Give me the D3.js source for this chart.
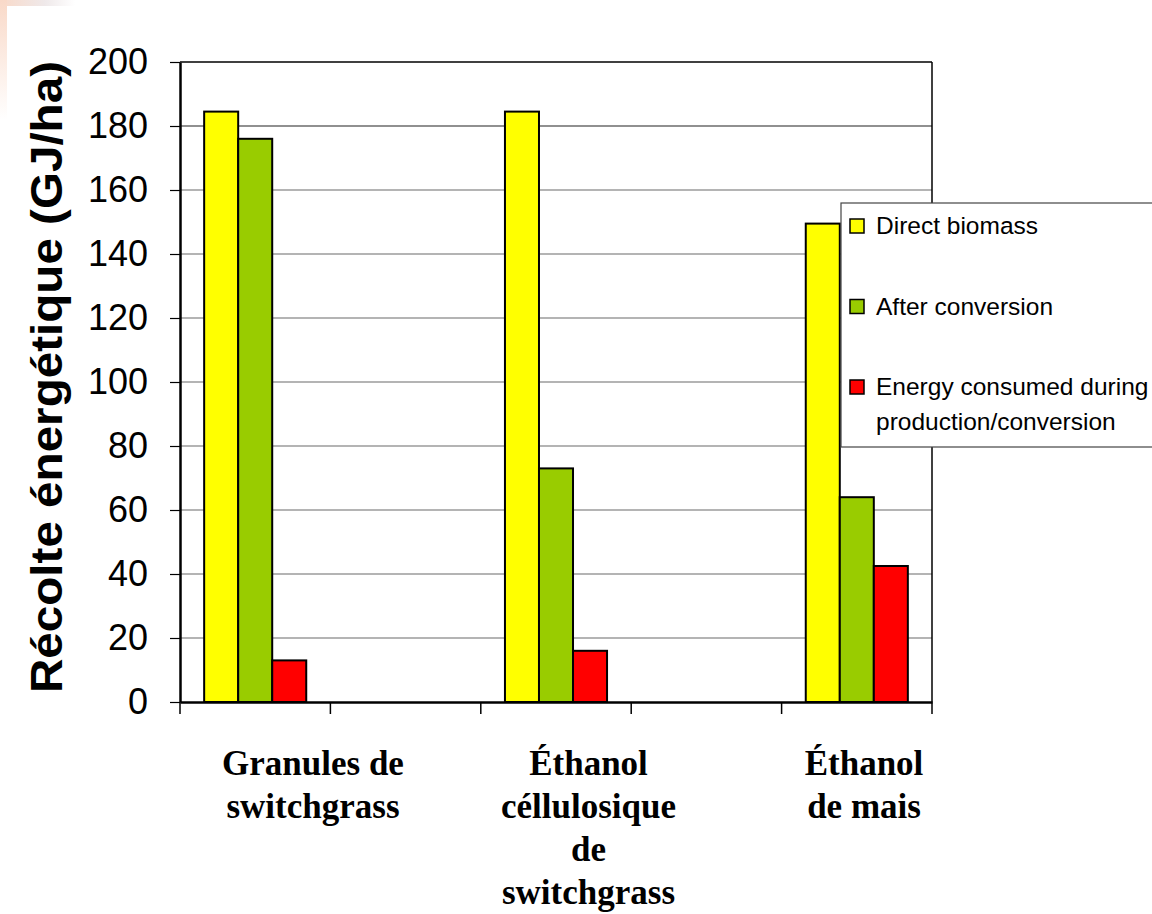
<!DOCTYPE html>
<html>
<head>
<meta charset="utf-8">
<script src="https://cdn.jsdelivr.net/npm/d3@7"></script>
<style>
  body { margin: 0; background: #fff; }
  svg { display: block; }
</style>
</head>
<body>
<svg id="chart" width="1152" height="914"></svg>
<script>
// ---- data ----
const categories = ["Granules de switchgrass", "Éthanol céllulosique de switchgrass", "Éthanol de mais"];
const categoryLines = [["Granules de", "switchgrass"], ["Éthanol", "céllulosique", "de", "switchgrass"], ["Éthanol", "de mais"]];
const seriesNames = ["Direct biomass", "After conversion", "Energy consumed during production/conversion"];
const legendLines = [["Direct biomass"], ["After conversion"], ["Energy consumed during", "production/conversion"]];
const directBiomass = [184.5, 184.5, 149.5];
const afterConversion = [176, 73, 64];
const energyConsumed = [13, 16, 42.5];
const yTicks = [0, 20, 40, 60, 80, 100, 120, 140, 160, 180, 200];
const colors = ["#ffff00", "#99cc00", "#ff0000"];
const yTitle = "Récolte énergétique (GJ/ha)";

const seriesValues = [directBiomass, afterConversion, energyConsumed];

const svg = d3.select("#chart");

// faint decorative corner gradient
const defs = svg.append("defs");
const gTop = defs.append("linearGradient").attr("id", "gTop").attr("x1", "0").attr("x2", "1");
gTop.append("stop").attr("offset", "0").attr("stop-color", "#f9d9c8");
gTop.append("stop").attr("offset", "0.6").attr("stop-color", "#efe9ea");
gTop.append("stop").attr("offset", "1").attr("stop-color", "#ffffff");
const gLeft = defs.append("linearGradient").attr("id", "gLeft").attr("x1", "0").attr("x2", "0").attr("y1", "0").attr("y2", "1");
gLeft.append("stop").attr("offset", "0").attr("stop-color", "#f9d9c8");
gLeft.append("stop").attr("offset", "1").attr("stop-color", "#ffffff");
svg.append("rect").attr("x", 0).attr("y", 0).attr("width", 75).attr("height", 6).attr("fill", "url(#gTop)");
svg.append("rect").attr("x", 0).attr("y", 0).attr("width", 7).attr("height", 120).attr("fill", "url(#gLeft)");

const plot = { left: 180, right: 932, top: 62, bottom: 702 };

// slots: categories interleaved with empty gaps
const slots = [];
categories.forEach((c, i) => { slots.push(c); if (i < categories.length - 1) slots.push("gap" + i); });

const x = d3.scaleBand().domain(slots).range([plot.left, plot.right]).padding(0);
const xInner = d3.scaleBand().domain(seriesNames).range([0, x.bandwidth()]).paddingInner(0).paddingOuter(0.71);
const y = d3.scaleLinear().domain([0, 200]).range([plot.bottom, plot.top]);

// gridlines
svg.append("g").selectAll("line").data(yTicks.filter(t => t > 0 && t < 200)).join("line")
  .attr("x1", plot.left).attr("x2", plot.right)
  .attr("y1", d => y(d)).attr("y2", d => y(d))
  .attr("stroke", d => d === 180 ? "#222" : "#6b6b6b").attr("stroke-width", 1.2);

// frame top and right
svg.append("line").attr("x1", plot.left).attr("x2", plot.right).attr("y1", plot.top).attr("y2", plot.top)
  .attr("stroke", "#000").attr("stroke-width", 1.5);
svg.append("line").attr("x1", plot.right).attr("x2", plot.right).attr("y1", plot.top).attr("y2", plot.bottom)
  .attr("stroke", "#000").attr("stroke-width", 1.5);

// bars
const groups = svg.append("g").selectAll("g").data(categories).join("g")
  .attr("transform", d => `translate(${x(d)},0)`);
groups.selectAll("rect").data((c, i) => seriesNames.map((s, j) => ({ s, j, v: seriesValues[j][i] }))).join("rect")
  .attr("x", d => xInner(d.s))
  .attr("width", xInner.bandwidth())
  .attr("y", d => y(d.v))
  .attr("height", d => y(0) - y(d.v))
  .attr("fill", d => colors[d.j])
  .attr("stroke", "#000").attr("stroke-width", 2);

// y axis
const yAxis = d3.axisLeft(y).tickValues(yTicks).tickSize(10).tickPadding(22).tickSizeOuter(0);
const yg = svg.append("g").attr("transform", `translate(${plot.left},0)`).call(yAxis);
yg.select(".domain").attr("stroke", "#000").attr("stroke-width", 2.5);
yg.selectAll(".tick line").attr("stroke", "#000").attr("stroke-width", 1.2);
yg.selectAll(".tick text").attr("font-family", "Liberation Sans, Arial, sans-serif").attr("font-size", 36).attr("fill", "#000");

// x axis
const xAxis = d3.axisBottom(x).tickValues([]).tickSizeOuter(0);
const xg = svg.append("g").attr("transform", `translate(0,${plot.bottom})`).call(xAxis);
xg.select(".domain").attr("stroke", "#000").attr("stroke-width", 2.5);
const boundaries = slots.map(s => x(s)).concat([plot.right]);
xg.selectAll("line.bt").data(boundaries).join("line").attr("class", "bt")
  .attr("x1", d => d).attr("x2", d => d).attr("y1", 0).attr("y2", 12)
  .attr("stroke", "#000").attr("stroke-width", 1.5);

// category labels
const xLabel = d3.scalePoint().domain(categories).range([313, 864]);
const lab = svg.append("g").selectAll("text").data(categories).join("text")
  .attr("text-anchor", "middle")
  .attr("font-family", "Liberation Serif, Times New Roman, serif")
  .attr("font-weight", "bold").attr("font-size", 35).attr("fill", "#000");
lab.selectAll("tspan").data((c, i) => categoryLines[i].map(l => ({ l, c }))).join("tspan")
  .attr("x", d => xLabel(d.c))
  .attr("y", (d, k) => 775 + k * 43)
  .text(d => d.l);

// y title
svg.append("text")
  .attr("transform", `translate(62,377) rotate(-90)`)
  .attr("text-anchor", "middle")
  .attr("font-family", "Liberation Sans, Arial, sans-serif")
  .attr("font-weight", "bold").attr("font-size", 45).attr("fill", "#000")
  .attr("textLength", 632).attr("lengthAdjust", "spacingAndGlyphs")
  .text(yTitle);

// legend
const legend = svg.append("g").attr("transform", "translate(841,203)");
legend.append("rect").attr("x", 0).attr("y", 0).attr("width", 340).attr("height", 244)
  .attr("fill", "#fff").attr("stroke", "#444").attr("stroke-width", 1.2);
const ly = d3.scalePoint().domain(seriesNames).range([31, 192]);
const items = legend.selectAll("g.item").data(seriesNames).join("g").attr("class", "item")
  .attr("transform", d => `translate(0,${ly(d)})`);
items.append("rect").attr("x", 9).attr("y", -15).attr("width", 14).attr("height", 14)
  .attr("fill", (d, i) => colors[i]).attr("stroke", "#000").attr("stroke-width", 1.5);
const lt = items.append("text").attr("font-family", "Liberation Sans, Arial, sans-serif")
  .attr("font-size", 24.5).attr("fill", "#000");
lt.selectAll("tspan").data((d, i) => legendLines[i]).join("tspan")
  .attr("x", (d, k) => 35)
  .attr("y", (d, k) => k * 35)
  .text(d => d);
</script>
</body>
</html>
